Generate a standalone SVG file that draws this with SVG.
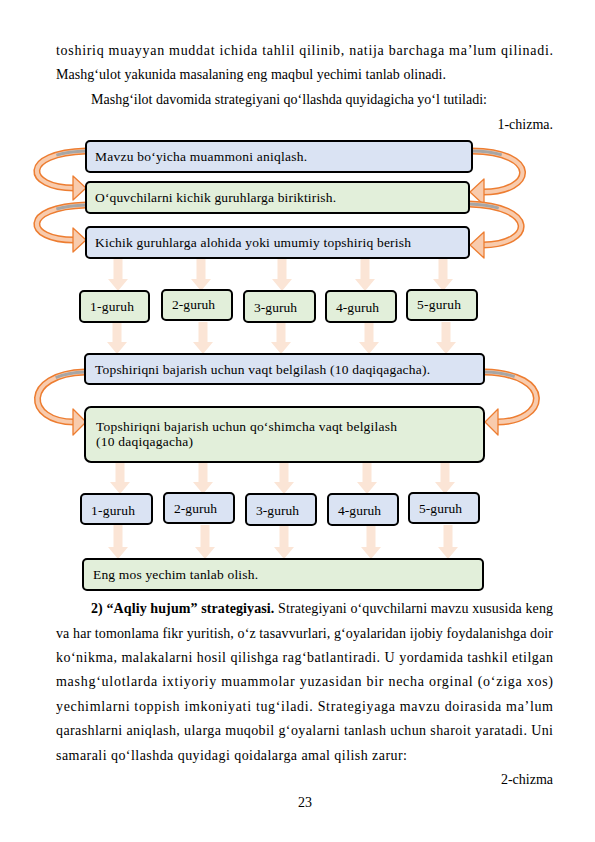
<svg xmlns="http://www.w3.org/2000/svg" width="595" height="842" viewBox="0 0 595 842">
<style>
text{font-family:"Liberation Serif","Times New Roman",serif;fill:#000}
.b{font-size:14px}
.n{font-size:13.5px}
.blue{fill:#dae3f3;stroke:#000;stroke-width:2}
.green{fill:#e2efda;stroke:#000;stroke-width:2}
.da{fill:#fbe5d6}
.co{fill:none;stroke:#ed7d31;stroke-width:7}
.ci{fill:none;stroke:#f8cbad;stroke-width:4}
.cg{fill:none;stroke:#a6a6a6;stroke-width:3;stroke-dasharray:30 1000}
.ch{fill:#f8cbad;stroke:#ed7d31;stroke-width:1.3;stroke-linejoin:round}
</style>
<rect width="595" height="842" fill="#fff"/>
<g id="body-top">
<text class="b" x="56" y="55" textLength="497" lengthAdjust="spacing">toshiriq muayyan muddat ichida tahlil qilinib, natija barchaga ma’lum qilinadi.</text>
<text class="b" x="56" y="79" textLength="390" lengthAdjust="spacing">Mashg‘ulot yakunida masalaning eng maqbul yechimi tanlab olinadi.</text>
<text class="b" x="91" y="104" textLength="396" lengthAdjust="spacing">Mashg‘ilot davomida strategiyani qo‘llashda quyidagicha yo‘l tutiladi:</text>
<text class="b" x="553" y="129" text-anchor="end">1-chizma.</text>
</g>
<g id="connectors">
<polygon class="da" points="113.5,258 122.5,258 122.5,279 128,279 118,291 108,279 113.5,279"/>
<polygon class="da" points="196.5,258 205.5,258 205.5,279 211,279 201,291 191,279 196.5,279"/>
<polygon class="da" points="277.5,258 286.5,258 286.5,279 292,279 282,291 272,279 277.5,279"/>
<polygon class="da" points="360.5,258 369.5,258 369.5,279 375,279 365,291 355,279 360.5,279"/>
<polygon class="da" points="438.5,258 447.5,258 447.5,279 453,279 443,291 433,279 438.5,279"/>
<polygon class="da" points="112.5,322 121.5,322 121.5,342 127,342 117,354 107,342 112.5,342"/>
<polygon class="da" points="198.5,322 207.5,322 207.5,342 213,342 203,354 193,342 198.5,342"/>
<polygon class="da" points="276.5,322 285.5,322 285.5,342 291,342 281,354 271,342 276.5,342"/>
<polygon class="da" points="364.5,322 373.5,322 373.5,342 379,342 369,354 359,342 364.5,342"/>
<polygon class="da" points="441.5,322 450.5,322 450.5,342 456,342 446,354 436,342 441.5,342"/>
<polygon class="da" points="115.5,463 124.5,463 124.5,482 130,482 120,494 110,482 115.5,482"/>
<polygon class="da" points="198.5,463 207.5,463 207.5,482 213,482 203,494 193,482 198.5,482"/>
<polygon class="da" points="279.5,463 288.5,463 288.5,482 294,482 284,494 274,482 279.5,482"/>
<polygon class="da" points="362.5,463 371.5,463 371.5,482 377,482 367,494 357,482 362.5,482"/>
<polygon class="da" points="440.5,463 449.5,463 449.5,482 455,482 445,494 435,482 440.5,482"/>
<polygon class="da" points="113.5,525 122.5,525 122.5,547 128,547 118,559 108,547 113.5,547"/>
<polygon class="da" points="200.5,525 209.5,525 209.5,547 215,547 205,559 195,547 200.5,547"/>
<polygon class="da" points="279.5,525 288.5,525 288.5,547 294,547 284,559 274,547 279.5,547"/>
<polygon class="da" points="366.5,525 375.5,525 375.5,547 381,547 371,559 361,547 366.5,547"/>
<polygon class="da" points="443.5,525 452.5,525 452.5,547 458,547 448,559 438,547 443.5,547"/>
<!-- curved arrows -->
<g id="curve-l1"><path class="co" d="M86,151 C20,153 25,188 74,188"/><path class="ci" d="M86,151 C20,153 25,188 74,188"/><path class="cg" d="M86,151 C20,153 25,188 74,188"/><polygon class="ch" points="73,176 86,188 73,200"/></g>
<g id="curve-l2"><path class="co" d="M86,205 C20,207 25,240 74,240"/><path class="ci" d="M86,205 C20,207 25,240 74,240"/><path class="cg" d="M86,205 C20,207 25,240 74,240"/><polygon class="ch" points="73,228 86,240 73,252"/></g>
<g id="curve-r1"><path class="co" d="M472,151 C540,152 535,192 483,192"/><path class="ci" d="M472,151 C540,152 535,192 483,192"/><path class="cg" d="M472,151 C540,152 535,192 483,192"/><polygon class="ch" points="484,179 470,192 484,205"/></g>
<g id="curve-r2"><path class="co" d="M469,204 C537,206 535,244 483,245"/><path class="ci" d="M469,204 C537,206 535,244 483,245"/><path class="cg" d="M469,204 C537,206 535,244 483,245"/><polygon class="ch" points="484,232 470,245 484,258"/></g>
<g id="curve-l3"><path class="co" d="M85,372 C22,374 25,422 74,422"/><path class="ci" d="M85,372 C22,374 25,422 74,422"/><path class="cg" d="M85,372 C22,374 25,422 74,422"/><polygon class="ch" points="73,409 86,422 73,435"/></g>
<g id="curve-r3"><path class="co" d="M485,372 C555,374 548,422 497,422"/><path class="ci" d="M485,372 C555,374 548,422 497,422"/><path class="cg" d="M485,372 C555,374 548,422 497,422"/><polygon class="ch" points="498,409 485,422 498,435"/></g>
</g>
<g id="n1"><rect class="blue" x="86" y="141" width="386" height="31" rx="4"/><text class="n" x="95" y="161" textLength="212" lengthAdjust="spacing">Mavzu bo‘yicha muammoni aniqlash.</text></g>
<g id="n2"><rect class="green" x="86" y="182" width="383" height="31" rx="4"/><text class="n" x="95" y="202" textLength="241" lengthAdjust="spacing">O‘quvchilarni kichik guruhlarga biriktirish.</text></g>
<g id="n3"><rect class="blue" x="86" y="227" width="383" height="31" rx="4"/><text class="n" x="95" y="247" textLength="316" lengthAdjust="spacing">Kichik guruhlarga alohida yoki umumiy topshiriq berish</text></g>
<g id="g1a"><rect class="green" x="80" y="291" width="69" height="31" rx="4"/><text class="n" x="90" y="311" textLength="44" lengthAdjust="spacing">1-guruh</text></g>
<g id="g2a"><rect class="green" x="162" y="290" width="70" height="30" rx="4"/><text class="n" x="172" y="309" textLength="43" lengthAdjust="spacing">2-guruh</text></g>
<g id="g3a"><rect class="green" x="244" y="291" width="71" height="31" rx="4"/><text class="n" x="254" y="312" textLength="43" lengthAdjust="spacing">3-guruh</text></g>
<g id="g4a"><rect class="green" x="326" y="291" width="70" height="31" rx="4"/><text class="n" x="336" y="312" textLength="43" lengthAdjust="spacing">4-guruh</text></g>
<g id="g5a"><rect class="green" x="407" y="290" width="70" height="30" rx="4"/><text class="n" x="417" y="309" textLength="44" lengthAdjust="spacing">5-guruh</text></g>
<g id="n4"><rect class="blue" x="85" y="354" width="399" height="30" rx="4"/><text class="n" x="95" y="374" textLength="335" lengthAdjust="spacing">Topshiriqni bajarish uchun vaqt belgilash (10 daqiqagacha).</text></g>
<g id="n5"><rect class="green" x="85" y="407" width="399" height="55" rx="6"/><text class="n" x="96" y="431" textLength="301" lengthAdjust="spacing">Topshiriqni bajarish uchun qo‘shimcha vaqt belgilash</text><text class="n" x="96" y="446" textLength="97" lengthAdjust="spacing">(10 daqiqagacha)</text></g>
<g id="g1b"><rect class="blue" x="81" y="494" width="71" height="30" rx="4"/><text class="n" x="91" y="515" textLength="44" lengthAdjust="spacing">1-guruh</text></g>
<g id="g2b"><rect class="blue" x="164" y="493" width="70" height="30" rx="4"/><text class="n" x="174" y="513" textLength="43" lengthAdjust="spacing">2-guruh</text></g>
<g id="g3b"><rect class="blue" x="246" y="494" width="70" height="31" rx="4"/><text class="n" x="256" y="515" textLength="43" lengthAdjust="spacing">3-guruh</text></g>
<g id="g4b"><rect class="blue" x="328" y="494" width="70" height="31" rx="4"/><text class="n" x="338" y="515" textLength="43" lengthAdjust="spacing">4-guruh</text></g>
<g id="g5b"><rect class="blue" x="409" y="493" width="70" height="30" rx="4"/><text class="n" x="419" y="513" textLength="43" lengthAdjust="spacing">5-guruh</text></g>
<g id="n6"><rect class="green" x="83" y="559" width="400" height="31" rx="4"/><text class="n" x="93" y="579" textLength="165" lengthAdjust="spacing">Eng mos yechim tanlab olish.</text></g>
<g id="body-bottom">
<text class="b" x="91" y="613" textLength="462" lengthAdjust="spacing"><tspan font-weight="bold">2) “Aqliy hujum” strategiyasi.</tspan> Strategiyani o‘quvchilarni mavzu xususida keng</text>
<text class="b" x="56" y="638" textLength="497" lengthAdjust="spacing">va har tomonlama fikr yuritish, o‘z tasavvurlari, g‘oyalaridan ijobiy foydalanishga doir</text>
<text class="b" x="56" y="662" textLength="497" lengthAdjust="spacing">ko‘nikma, malakalarni hosil qilishga rag‘batlantiradi. U yordamida tashkil etilgan</text>
<text class="b" x="56" y="686" textLength="497" lengthAdjust="spacing">mashg‘ulotlarda ixtiyoriy muammolar yuzasidan bir necha orginal (o‘ziga xos)</text>
<text class="b" x="56" y="711" textLength="497" lengthAdjust="spacing">yechimlarni toppish imkoniyati tug‘iladi. Strategiyaga mavzu doirasida ma’lum</text>
<text class="b" x="56" y="735" textLength="497" lengthAdjust="spacing">qarashlarni aniqlash, ularga muqobil g‘oyalarni tanlash uchun sharoit yaratadi. Uni</text>
<text class="b" x="56" y="760" textLength="351" lengthAdjust="spacing">samarali qo‘llashda quyidagi qoidalarga amal qilish zarur:</text>
<text class="b" x="553" y="784" text-anchor="end">2-chizma</text>
<text class="b" x="305" y="807" text-anchor="middle">23</text>
</g>
</svg>
